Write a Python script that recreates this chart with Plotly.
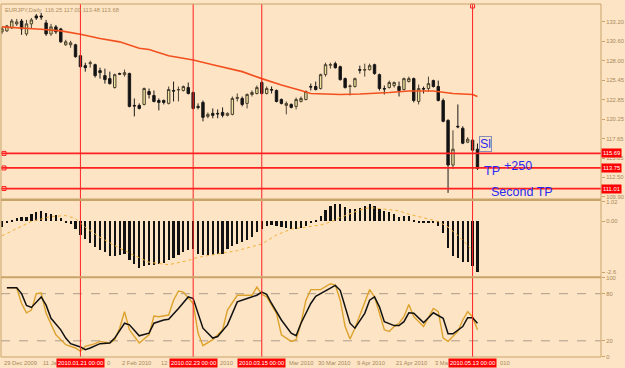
import plotly.graph_objects as go

# ---------------- data (EURJPY daily, 29 Dec 2009 .. 14 May 2010) ----------------
bar_index = list(range(98))

opens = [131.88, 132.01, 132.41, 132.94, 133.33, 131.61, 132.94, 134.00, 134.00, 133.07,
         131.61, 132.54, 132.27, 130.16, 130.16, 130.16, 128.70, 127.38, 127.64, 127.51,
         126.71, 126.05, 125.65, 124.46, 126.32, 126.18, 126.32, 122.08, 122.08, 122.21,
         123.93, 123.40, 122.74, 122.74, 122.35, 124.07, 124.13, 124.07, 124.46, 123.80,
         121.95, 122.48, 120.62, 121.02, 121.02, 121.15, 120.76, 120.89, 123.01, 123.01,
         122.35, 123.54, 123.67, 125.13, 123.67, 124.20, 124.07, 122.87, 122.08, 122.21,
         121.95, 122.61, 122.87, 124.60, 124.60, 124.33, 126.18, 127.44, 127.64, 127.24,
         125.65, 124.60, 124.60, 126.85, 126.78, 126.85, 127.51, 126.18, 124.33, 124.46,
         124.73, 124.60, 124.20, 125.26, 125.65, 122.61, 124.33, 124.33, 125.39, 124.60,
         122.74, 120.09, 114.14, 119.30, 119.04, 117.18, 117.45, 116.25]
highs = [132.54, 132.80, 133.60, 133.60, 133.60, 133.47, 133.73, 134.26, 134.39, 133.47,
         132.94, 132.80, 132.41, 130.82, 130.69, 130.29, 128.83, 127.77, 128.04, 127.64,
         127.11, 126.98, 126.58, 126.32, 126.45, 126.85, 126.45, 123.01, 122.35, 124.46,
         124.33, 124.07, 123.01, 122.87, 124.60, 125.26, 124.60, 124.73, 125.13, 123.93,
         122.35, 122.74, 121.15, 121.68, 121.55, 121.82, 121.15, 123.27, 123.67, 123.27,
         123.67, 124.07, 124.73, 125.39, 124.60, 124.60, 124.20, 123.01, 122.61, 122.35,
         123.14, 123.27, 124.07, 124.99, 125.26, 126.32, 127.77, 127.77, 127.91, 127.38,
         125.79, 124.86, 125.79, 127.38, 127.64, 127.64, 127.64, 126.32, 124.73, 125.39,
         125.26, 125.26, 125.79, 125.92, 125.79, 124.86, 124.60, 125.92, 125.52, 125.39,
         123.01, 120.23, 118.77, 122.21, 119.30, 117.84, 117.71, 117.00]
lows = [131.61, 131.88, 132.27, 132.67, 131.48, 131.35, 132.27, 133.47, 133.47, 131.35,
        131.35, 131.61, 130.42, 130.02, 129.76, 128.44, 127.11, 126.58, 127.11, 125.79,
        125.65, 124.99, 124.86, 124.33, 126.18, 125.92, 121.82, 120.62, 121.55, 122.08,
        123.01, 122.48, 121.42, 122.21, 122.21, 122.61, 122.61, 123.93, 123.54, 121.55,
        121.55, 119.96, 120.37, 120.37, 120.37, 120.49, 120.62, 120.76, 122.61, 121.95,
        121.68, 123.27, 123.54, 123.54, 123.54, 123.67, 122.48, 122.21, 120.89, 121.68,
        121.55, 122.48, 122.74, 124.07, 124.07, 124.20, 125.92, 126.98, 126.98, 125.39,
        124.33, 123.40, 124.46, 126.32, 125.92, 126.71, 126.18, 124.07, 123.54, 124.33,
        124.46, 123.27, 124.07, 125.13, 122.48, 122.21, 123.67, 123.93, 124.46, 122.61,
        119.83, 110.43, 113.61, 119.04, 116.92, 117.05, 115.99, 113.48]
closes = [132.27, 132.67, 133.33, 133.20, 132.27, 132.94, 133.47, 133.73, 133.86, 131.61,
          132.54, 131.88, 130.55, 130.55, 130.42, 128.57, 127.24, 127.11, 127.77, 126.05,
          126.45, 125.52, 124.99, 126.18, 126.25, 126.45, 121.95, 122.01, 121.68, 124.33,
          123.54, 122.61, 122.48, 122.48, 124.20, 124.00, 124.20, 124.60, 123.67, 121.68,
          121.82, 120.49, 120.89, 120.76, 120.96, 120.76, 121.02, 123.01, 123.14, 122.21,
          123.54, 123.80, 124.46, 123.67, 124.33, 124.13, 122.61, 122.35, 122.35, 121.82,
          122.87, 123.01, 123.93, 124.53, 124.20, 126.18, 127.51, 127.51, 127.11, 125.52,
          124.46, 124.66, 125.65, 126.78, 126.85, 127.38, 126.32, 124.33, 124.27, 125.13,
          125.13, 124.07, 125.65, 125.65, 122.74, 124.33, 124.27, 124.99, 124.60, 122.74,
          119.96, 114.14, 116.25, 119.23, 117.05, 117.58, 116.12, 113.68]

ma_idx = [0, 4, 8, 12, 16, 20, 24, 28, 30, 34, 39, 43, 47, 49, 53, 57, 61, 63, 69, 73,
          79, 83, 88, 90, 92, 96, 97]
ma_val = [132.54, 132.41, 132.23, 132.01, 131.57, 130.99, 130.55, 129.69, 129.53, 128.70,
          128.13, 127.51, 126.85, 126.58, 125.65, 124.80, 124.07, 123.67, 123.54, 123.60,
          123.80, 124.00, 124.00, 123.80, 123.67, 123.54, 123.27]

macd_hist = [-0.30, -0.08, 0.06, 0.14, 0.22, 0.22, 0.36, 0.44, 0.51, 0.39,
             0.36, 0.30, 0.17, -0.07, -0.17, -0.42, -0.71, -0.93, -1.10, -1.30,
             -1.47, -1.59, -1.76, -1.76, -1.73, -1.69, -1.98, -2.20, -2.37, -2.28,
             -2.23, -2.23, -2.20, -2.15, -1.98, -1.86, -1.73, -1.56, -1.47, -1.44,
             -1.69, -1.73, -1.73, -1.73, -1.69, -1.69, -1.44, -1.25, -1.18, -1.05,
             -0.96, -0.80, -0.58, -0.42, -0.24, -0.20, -0.24, -0.29, -0.37, -0.41,
             -0.41, -0.34, -0.24, -0.08, 0.06, 0.25, 0.56, 0.76, 0.86, 0.85,
             0.73, 0.64, 0.64, 0.69, 0.76, 0.85, 0.76, 0.61, 0.51, 0.44,
             0.34, 0.22, 0.25, 0.25, 0.06, -0.06, -0.06, -0.06, -0.08, -0.24,
             -0.59, -1.35, -1.76, -1.86, -2.07, -2.10, -2.27, -2.61]
sig_idx = [0, 6, 10, 13, 15, 17, 20, 23, 27, 30, 34, 38, 40, 44, 48, 53, 56, 59, 62, 65,
           67, 69, 73, 75, 77, 81, 83, 87, 89, 91, 93, 95, 96]
sig_val = [-0.73, 0.0, 0.25, 0.30, 0.15, -0.30, -0.81, -1.23, -1.74, -2.08, -2.21, -1.99,
           -1.83, -1.65, -1.49, -1.15, -0.69, -0.39, -0.30, -0.18, -0.03, 0.20, 0.59, 0.71,
           0.66, 0.54, 0.37, 0.12, 0.0, -0.29, -0.71, -1.22, -1.48]

stoch_d_idx = [1, 3, 4, 5, 6, 7, 8, 9, 10, 12, 13, 14, 16, 17, 18, 20, 22, 23, 25, 26,
               28, 30, 31, 33, 34, 36, 38, 39, 40, 41, 43, 44, 46, 47, 48, 50, 52, 53, 54, 55,
               57, 59, 60, 61, 63, 64, 65, 66, 68, 69, 70, 71, 72, 74, 75, 76, 77, 78, 80, 81,
               82, 83, 84, 86, 88, 90, 91, 92, 94, 95, 96, 97]
stoch_d_val = [87.6, 87.6, 80.1, 65.0, 62.5, 69.6, 75.9, 65.4, 48.7, 34.0, 23.5, 16.4, 12.2,
               8.8, 10.9, 16.4, 17.2, 23.5, 42.4, 40.3, 26.4, 29.8, 42.4, 46.5, 47.4, 61.2,
               75.9, 73.8, 55.0, 36.1, 23.5, 25.5, 40.3, 55.0, 69.6, 73.8, 78.0, 82.1, 79.2,
               67.5, 46.5, 29.8, 26.4, 42.4, 67.5, 76.7, 80.1, 84.3, 90.6, 84.3, 63.3, 42.4,
               36.1, 55.0, 71.7, 75.9, 63.3, 44.4, 39.4, 39.4, 44.4, 55.7, 55.0, 43.1, 55.7,
               48.7, 28.9, 28.9, 38.1, 49.4, 49.4, 42.4]
stoch_k_idx = [1, 3, 4, 5, 6, 7, 8, 9, 11, 12, 13, 15, 16, 17, 19, 20, 22, 23, 24, 25, 26,
               28, 30, 31, 32, 34, 35, 36, 37, 39, 40, 41, 43, 45, 46, 48, 49, 51, 52, 53, 54,
               56, 57, 59, 60, 61, 62, 63, 65, 67, 68, 69, 70, 71, 72, 74, 75, 76, 78, 79, 80,
               81, 82, 83, 84, 86, 88, 89, 90, 91, 93, 94, 95, 96, 97]
stoch_k_val = [87.6, 87.6, 67.5, 55.7, 59.1, 80.1, 80.9, 55.0, 27.7, 21.4, 15.1, 10.9, 6.7,
               13.0, 16.4, 19.3, 17.2, 21.4, 36.1, 57.0, 34.0, 17.2, 27.7, 51.6, 50.7, 52.8,
               71.7, 83.4, 82.1, 67.5, 29.8, 13.8, 21.4, 34.0, 59.1, 78.0, 78.0, 78.0, 88.4,
               79.2, 75.9, 55.0, 27.7, 19.3, 21.4, 42.4, 71.7, 85.2, 85.2, 92.7, 91.0, 71.7,
               38.1, 22.3, 36.1, 67.5, 85.2, 75.9, 34.0, 31.9, 38.1, 42.4, 50.7, 66.3, 50.7,
               38.1, 61.2, 57.0, 23.5, 19.3, 31.9, 46.5, 57.0, 50.7, 34.0]

# date labels as visible on the time axis (left-aligned at their bar); labels that run
# under a red event box show only their visible part
date_label_idx = [0, 8, 24, 32, 64, 72, 80, 88]
date_label_txt = ["29 Dec 2009", "11 Ja", "2 Feb 2010", "12",
                  "30 Mar 2010", "9 Apr 2010", "21 Apr 2010", "3 Ma"]
# event markers (red date boxes) and the visible tails of labels hidden behind them
vline_idx = [16, 39, 53, 96]
vline_txt = ["2010.01.21 00:00", "2010.02.23 00:00", "2010.03.15 00:00", "2010.05.13 00:00"]
tail_txt = ["0", "2010", "Mar 2010", "010"]

hline_price = [115.69, 113.75, 111.01]
hline_txt = ["115.69", "113.75", "111.01"]

price_ticks = [133.20, 130.60, 128.00, 125.45, 122.85, 120.25, 117.65, 115.05, 112.50, 109.90]
macd_ticks = [1.02, 0.0, -2.6]
macd_tick_txt = ["1.02", "0.00", "-2.6"]
stoch_ticks = [100, 80, 20, 0]

title_txt = "EURJPY,Daily  116.25 117.00 113.48 113.68"

# ---------------- styling ----------------
BG = "#fde4c5"
FRAME = "#c8a468"
LBL = "#a8895a"
RED = "#ff2020"
BLUE = "#2b2bef"
FONT = "Liberation Sans"

fig = go.Figure()

fig.add_trace(go.Candlestick(
    x=bar_index, open=opens, high=highs, low=lows, close=closes,
    increasing=dict(fillcolor="#f1e49c", line=dict(color="#4a4232", width=1)),
    decreasing=dict(fillcolor="#111111", line=dict(color="#1a1a1a", width=1)),
    whiskerwidth=0, xaxis="x", yaxis="y", showlegend=False, hoverinfo="skip"))

fig.add_trace(go.Scatter(x=ma_idx, y=ma_val, mode="lines", yaxis="y",
                         line=dict(color="#f2501e", width=1.6), showlegend=False,
                         hoverinfo="skip"))

fig.add_trace(go.Bar(x=bar_index, y=macd_hist, yaxis="y2", width=0.45,
                     marker=dict(color="#121212", line=dict(width=0)),
                     showlegend=False, hoverinfo="skip"))
fig.add_trace(go.Scatter(x=sig_idx, y=sig_val, mode="lines", yaxis="y2",
                         line=dict(color="#f0b038", width=1, dash="dot"),
                         showlegend=False, hoverinfo="skip"))

fig.add_trace(go.Scatter(x=stoch_k_idx, y=stoch_k_val, mode="lines", yaxis="y3",
                         line=dict(color="#dca22c", width=1.4), showlegend=False,
                         hoverinfo="skip"))
fig.add_trace(go.Scatter(x=stoch_d_idx, y=stoch_d_val, mode="lines", yaxis="y3",
                         line=dict(color="#111111", width=1.5), showlegend=False,
                         hoverinfo="skip"))

shapes = []
for lv in (80, 20):
    shapes.append(dict(type="line", xref="paper", x0=0, x1=1, yref="y3", y0=lv, y1=lv,
                       line=dict(color="#ab9c8c", width=1, dash="dash"), layer="below"))
for p in hline_price:
    shapes.append(dict(type="line", xref="paper", x0=0, x1=1, yref="y", y0=p, y1=p,
                       line=dict(color=RED, width=1.7)))
    shapes.append(dict(type="rect", xref="paper", xsizemode="pixel", xanchor=0, x0=1, x1=5,
                       yref="y", ysizemode="pixel", yanchor=p, y0=-2, y1=2,
                       line=dict(color=RED, width=1), fillcolor="rgba(0,0,0,0)"))
for v in vline_idx:
    shapes.append(dict(type="line", xref="x", x0=v, x1=v, yref="paper", y0=0, y1=1,
                       line=dict(color=RED, width=1)))
shapes.append(dict(type="rect", xref="x", xsizemode="pixel", xanchor=vline_idx[-1], x0=-2, x1=2,
                   yref="paper", ysizemode="pixel", yanchor=1, y0=-4, y1=0,
                   line=dict(color=RED, width=1), fillcolor="rgba(0,0,0,0)"))
shapes += [
    dict(type="line", xref="paper", x0=0, x1=1, yref="paper", y0=1, y1=1,
         line=dict(color=FRAME, width=1)),
    dict(type="line", xref="paper", x0=0, x1=1, yref="paper", y0=0.4458, y1=0.4458,
         line=dict(color=FRAME, width=2.5)),
    dict(type="line", xref="paper", x0=0, x1=1, yref="paper", y0=0.2262, y1=0.2262,
         line=dict(color=FRAME, width=2)),
    dict(type="line", xref="paper", x0=0, x1=1, yref="paper", y0=0, y1=0,
         line=dict(color=FRAME, width=1)),
    dict(type="line", xref="paper", x0=1, x1=1, yref="paper", y0=0, y1=1,
         line=dict(color=FRAME, width=1)),
    dict(type="line", xref="paper", x0=0, x1=0, yref="paper", y0=0, y1=1,
         line=dict(color=FRAME, width=1)),
]

ann = []
ann.append(dict(text=title_txt, xref="paper", yref="paper", x=0.004, y=0.998,
                xanchor="left", yanchor="top", showarrow=False,
                font=dict(family=FONT, size=5.8, color="#b09062")))
for i, t in zip(date_label_idx, date_label_txt):
    ann.append(dict(text=t, xref="x", x=i, yref="paper", y=-0.017, xanchor="left",
                    yanchor="middle", showarrow=False,
                    font=dict(family=FONT, size=5.8, color=LBL)))
for i, t in zip(vline_idx, tail_txt):
    ann.append(dict(text=t, xref="x", x=i, xshift=25, yref="paper", y=-0.017,
                    xanchor="left", yanchor="middle", showarrow=False,
                    font=dict(family=FONT, size=5.8, color=LBL)))
for i, t in zip(vline_idx, vline_txt):
    ann.append(dict(text=t, xref="x", x=i, yref="paper", y=-0.017, xanchor="center",
                    yanchor="middle", showarrow=False, bgcolor="#ff0000", borderpad=1,
                    font=dict(family=FONT, size=5.8, color="#ffffff")))
for p, t in zip(hline_price, hline_txt):
    ann.append(dict(text=t, xref="paper", x=1, yref="y", y=p, xanchor="left",
                    yanchor="middle", showarrow=False, bgcolor="#ff0000", borderpad=1,
                    font=dict(family=FONT, size=5.8, color="#ffffff")))
ann.append(dict(text="Sl", xref="x", x=98.6, yref="y", y=116.92, showarrow=False,
                bordercolor="#8a8ab8", borderwidth=1, borderpad=0,
                font=dict(family=FONT, size=12.5, color=BLUE)))
ann.append(dict(text="TP", xref="x", x=99.9, yref="y", y=113.34, showarrow=False,
                font=dict(family=FONT, size=12.5, color=BLUE)))
ann.append(dict(text="+250", xref="x", x=105.3, yref="y", y=114.0, showarrow=False,
                font=dict(family=FONT, size=12.5, color=BLUE)))
ann.append(dict(text="Second TP", xref="x", x=106.0, yref="y", y=110.56, showarrow=False,
                font=dict(family=FONT, size=12.5, color=BLUE)))

axis_common = dict(side="right", showgrid=False, zeroline=False, ticks="outside", ticklen=3,
                   tickcolor=FRAME, tickfont=dict(family=FONT, size=5.8, color=LBL),
                   anchor="x", fixedrange=True, showline=False)

fig.update_layout(
    width=625, height=368,
    margin=dict(l=1, r=23, t=2, b=11),
    paper_bgcolor=BG, plot_bgcolor=BG,
    showlegend=False, bargap=0,
    xaxis=dict(domain=[0, 1], range=[-0.2, 122.2], showgrid=False, zeroline=False,
               showticklabels=False, ticks="", anchor="y3", fixedrange=True,
               rangeslider=dict(visible=False)),
    yaxis=dict(domain=[0.4479, 1], range=[109.63, 135.59], tickvals=price_ticks,
               ticktext=[f"{v:.2f}" for v in price_ticks], **axis_common),
    yaxis2=dict(domain=[0.2282, 0.4437], range=[-2.807, 1.076], tickvals=macd_ticks,
                ticktext=macd_tick_txt, **axis_common),
    yaxis3=dict(domain=[0, 0.2239], range=[-0.6, 100], tickvals=stoch_ticks,
                ticktext=[str(v) for v in stoch_ticks], **axis_common),
    shapes=shapes, annotations=ann,
)

fig.write_html("out.html", config={"displayModeBar": False})
